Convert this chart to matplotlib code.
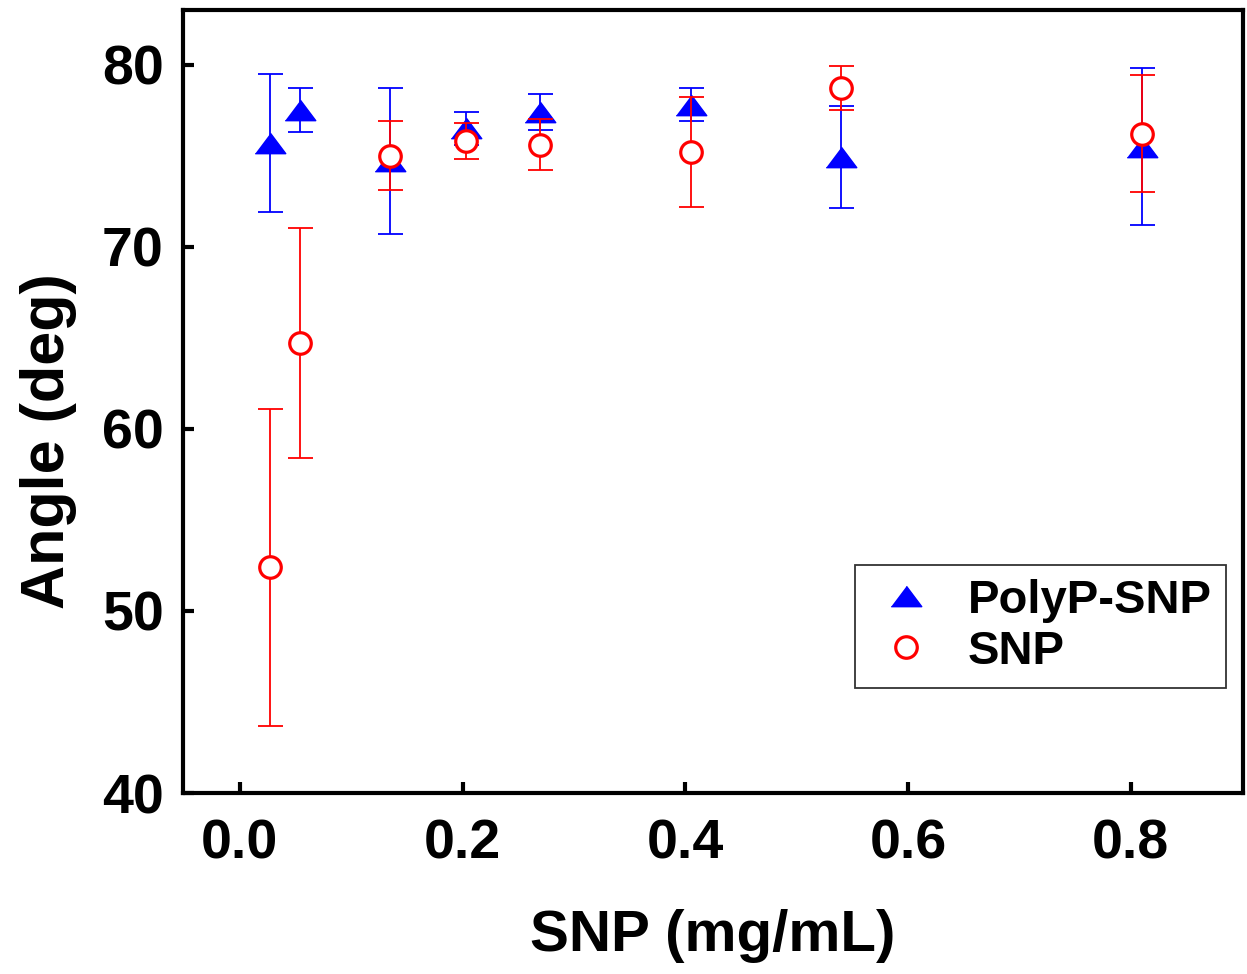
import matplotlib
matplotlib.use("Agg")
import matplotlib.pyplot as plt

# Data
x_vals = [0.027, 0.054, 0.135, 0.203, 0.27, 0.405, 0.54, 0.81]
polyp_mean = [75.7, 77.5, 74.7, 76.5, 77.4, 77.8, 74.9, 75.5]
polyp_err = [3.8, 1.2, 4.0, 0.9, 1.0, 0.9, 2.8, 4.3]
snp_mean = [52.4, 64.7, 75.0, 75.8, 75.6, 75.2, 78.7, 76.2]
snp_err = [8.7, 6.3, 1.9, 1.0, 1.4, 3.0, 1.2, 3.2]

xticks = [0.0, 0.2, 0.4, 0.6, 0.8]
xtick_labels = ["0.0", "0.2", "0.4", "0.6", "0.8"]
yticks = [40, 50, 60, 70, 80]
ytick_labels = ["40", "50", "60", "70", "80"]

plt.rcParams['font.family'] = ['Liberation Sans', 'DejaVu Sans']
plt.rcParams['font.weight'] = 'bold'

fig = plt.figure(figsize=(12.47, 9.74), dpi=100)
ax = fig.add_axes([0.1468, 0.1858, 0.85, 0.804])

tri = [(-1.5, -1.0), (1.5, -1.0), (0.0, 1.0)]

ax.errorbar(x_vals, polyp_mean, yerr=polyp_err, fmt='none', ecolor='blue',
            elinewidth=1.3, capsize=9, capthick=1.3)
ax.plot(x_vals, polyp_mean, linestyle='none', marker=tri, markersize=22,
        color='blue', label='PolyP-SNP')
ax.errorbar(x_vals, snp_mean, yerr=snp_err, fmt='none', ecolor='red',
            elinewidth=1.3, capsize=9, capthick=1.3)
ax.plot(x_vals, snp_mean, linestyle='none', marker='o', markersize=15.5,
        markerfacecolor='white', markeredgecolor='red', markeredgewidth=2.3,
        label='SNP')

ax.set_xlim(-0.051, 0.901)
ax.set_ylim(40, 83.0)
ax.set_xticks(xticks)
ax.set_xticklabels(xtick_labels)
ax.set_yticks(yticks)
ax.set_yticklabels(ytick_labels)

for s in ax.spines.values():
    s.set_linewidth(3)
ax.tick_params(direction='in', length=8, width=3, labelsize=40, pad=14)
ax.tick_params(axis='x', pad=18)
for lab in ax.get_xticklabels() + ax.get_yticklabels():
    lab.set_fontweight('bold')

ax.set_xlabel('SNP (mg/mL)', fontsize=42, fontweight='bold')
ax.xaxis.set_label_coords(0.5, -0.148)
ax.set_ylabel('Angle (deg)', fontsize=44, fontweight='bold')
ax.yaxis.set_label_coords(-0.100, 0.45)

leg = ax.legend(loc='lower right', bbox_to_anchor=(0.984, 0.134), fontsize=34,
                frameon=True, fancybox=False, edgecolor='black',
                handletextpad=0.5, borderpad=0.3, labelspacing=0.15,
                handlelength=1.6, borderaxespad=0)
leg.get_frame().set_linewidth(1.3)
for t in leg.get_texts():
    t.set_fontweight('bold')

fig.savefig('out.png', dpi=100, facecolor='white')
